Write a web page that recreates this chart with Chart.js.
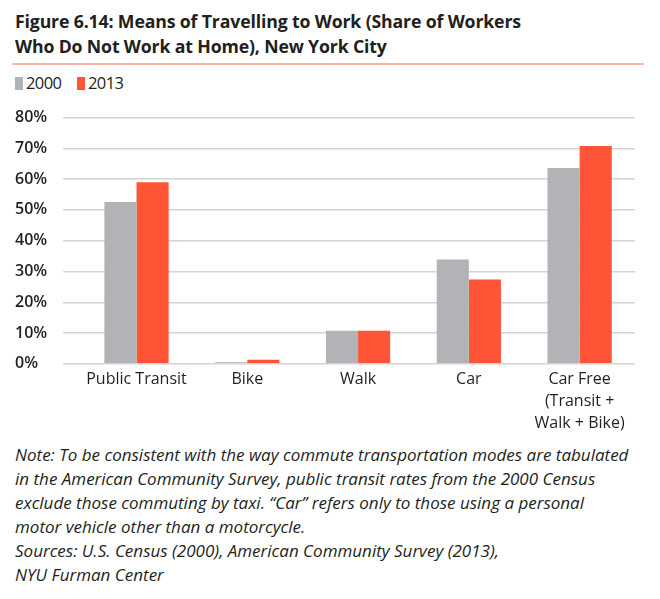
<!DOCTYPE html>
<html>
<head>
<meta charset="utf-8">
<script src="https://cdn.jsdelivr.net/npm/chart.js@4"></script>
<style>
  body { margin: 0; background: #fff; font-family: "Open Sans", sans-serif; color: #231f20; }
  #wrap { position: relative; width: 660px; height: 599px; overflow: hidden; }
  #title { position: absolute; left: 15px; top: 9px; font-size: 17.7px; font-weight: 700; line-height: 25px; letter-spacing: -0.15px; }
  #rule { position: absolute; left: 12px; top: 63px; width: 632px; height: 2px; background: #f8b5a6; }
  #legend { position: absolute; left: 15px; top: 71px; font-size: 16.5px; letter-spacing: -0.6px; }
  #legend span.sw { display: inline-block; width: 8px; height: 13px; margin-right: 3px; vertical-align: -1px; }
  #legend span.item { margin-right: 12px; }
  #chartBox { position: absolute; left: 0; top: 100px; width: 660px; height: 339px; }
  #note { position: absolute; left: 15px; top: 443px; font-size: 17px; font-style: italic; line-height: 24px; letter-spacing: 0px; }
</style>
</head>
<body>
<div id="wrap">
  <div id="title">Figure 6.14: Means of Travelling to Work (Share of Workers<br>Who Do Not Work at Home), New York City</div>
  <div id="rule"></div>
  <div id="legend">
    <span class="item"><span class="sw" style="background:#b2b3b7"></span>2000</span>
    <span class="item"><span class="sw" style="background:#ff5436"></span>2013</span>
  </div>
  <div id="chartBox"><canvas id="modesChart"></canvas></div>
  <div id="note">Note: To be consistent with the way commute transportation modes are tabulated<br>in the American Community Survey, public transit rates from the 2000 Census<br>exclude those commuting by taxi. “Car” refers only to those using a personal<br>motor vehicle other than a motorcycle.<br>Sources: U.S. Census (2000), American Community Survey (2013),<br>NYU Furman Center</div>
</div>
<script>
const categories = ['Public Transit', 'Bike', 'Walk', 'Car', ['Car Free', '(Transit +', 'Walk + Bike)']];
const share2000 = [52.6, 0.5, 10.7, 33.9, 63.6];
const share2013 = [59.0, 1.3, 10.7, 27.4, 70.8];
const yTicks = [0, 10, 20, 30, 40, 50, 60, 70, 80];

const ctx = document.getElementById('modesChart');
new Chart(ctx, {
    type: 'bar',
    data: {
        labels: categories,
        datasets: [{
            label: '2000',
            data: share2000,
            backgroundColor: '#b2b3b7',
            barPercentage: 1,
            categoryPercentage: 0.58
        }, {
            label: '2013',
            data: share2013,
            backgroundColor: '#ff5436',
            barPercentage: 1,
            categoryPercentage: 0.58
        }]
    },
    options: {
        responsive: true,
        maintainAspectRatio: false,
        animation: false,
        layout: { padding: { left: 15, right: 25, top: 8, bottom: 0 } },
        plugins: {
            legend: { display: false },
            tooltip: { enabled: false }
        },
        scales: {
            x: {
                grid: { display: false, drawTicks: false },
                border: { display: false },
                ticks: {
                    color: '#231f20',
                    font: { family: 'Open Sans', size: 16, lineHeight: 1.4 },
                    padding: 4,
                    maxRotation: 0,
                    autoSkip: false
                }
            },
            y: {
                min: 0,
                max: 80,
                afterBuildTicks: axis => { axis.ticks = yTicks.map(v => ({ value: v })); },
                border: { display: false },
                grid: { color: '#d3d3d3', lineWidth: 1.5, tickLength: 18, tickColor: '#d3d3d3' },
                ticks: {
                    color: '#231f20',
                    crossAlign: 'far',
                    padding: 8,
                    font: { family: 'Open Sans', size: 16, weight: '600' },
                    callback: v => v + '%'
                }
            }
        }
    }
});
</script>
</body>
</html>
